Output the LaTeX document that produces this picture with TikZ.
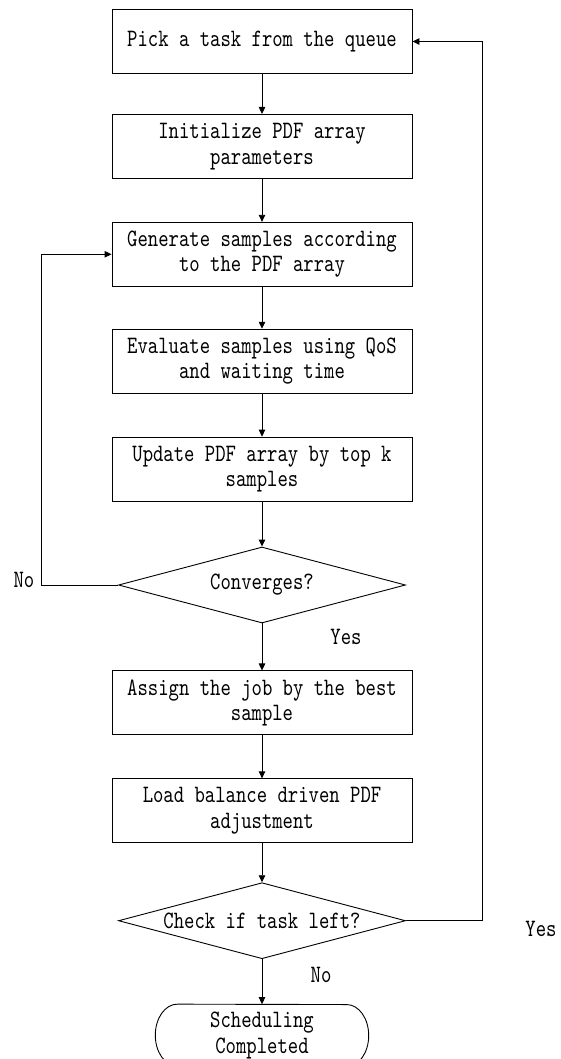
\documentclass[tikz,border=0pt]{standalone}
\usepackage{fontspec}
\usepackage{tikz}
\usetikzlibrary{arrows.meta,positioning,shapes.geometric}
\newfontfamily\flowfont{lmmono10-regular.otf}[FakeStretch=0.79]
\tikzset{
  >={Triangle[length=7pt,width=6.5pt]},
  tasknode/.style={draw,line width=0.9pt,align=center,
                   font=\flowfont\fontsize{25}{25.5}\selectfont,
                   minimum width=300pt,minimum height=64pt,inner sep=2pt},
  testnode/.style={draw,diamond,aspect=3.8,line width=0.9pt,
                   font=\flowfont\fontsize{25}{25.5}\selectfont,
                   minimum width=287pt,minimum height=76pt,inner sep=0pt},
  endnode/.style={align=center,font=\flowfont\fontsize{25}{25.5}\selectfont,
                  minimum width=213pt,minimum height=62pt,inner sep=0pt},
  flowarrow/.style={->,line width=0.9pt},
  answer/.style={font=\flowfont\fontsize{25}{25.5}\selectfont,inner sep=0pt},
}
\begin{document}
\begin{tikzpicture}[x=1pt,y=1pt]
  \useasboundingbox (0,0) rectangle (561,-1059);
  \node[tasknode] (pick) at (262,-41.5) {Pick a task from the queue};
  \node[tasknode,below=40pt of pick] (init) {Initialize PDF array\\parameters};
  \node[tasknode,below=43pt of init] (gen) {Generate samples according\\to the PDF array};
  \node[tasknode,below=42pt of gen] (eval) {Evaluate samples using QoS\\and waiting time};
  \node[tasknode,below=43pt of eval] (upd) {Update PDF array by top k\\samples};
  \node[testnode,below=45pt of upd] (conv) {Converges?};
  \node[tasknode,below=47pt of conv] (assign) {Assign the job by the best\\sample};
  \node[tasknode,below=43pt of assign] (load) {Load balance driven PDF\\adjustment};
  \node[testnode,below=39pt of load] (left) {Check if task left?};
  \node[endnode,below=45pt of left] (done) {Scheduling\\Completed};
  % terminal outline with flat elliptic ends
  \draw[line width=0.9pt] ([xshift=22pt]done.north west)
    arc[start angle=90,end angle=270,x radius=22pt,y radius=31pt]
    -- ([xshift=-22pt]done.south east)
    arc[start angle=-90,end angle=90,x radius=22pt,y radius=31pt] -- cycle;
  \foreach \a/\b in {pick/init,init/gen,gen/eval,eval/upd,upd/conv,conv/assign,assign/load,load/left,left/done}{
    \draw[flowarrow] (\a.south) -- (\b.north);
  }
  \draw[flowarrow] (conv.west) -- ++(-76.5,0) |- (gen.west);
  \draw[flowarrow] (left.east) -- ++(76.5,0) |- (pick.east);
  \node[answer] (no1) at (24,-580) {No};
  \node[answer] (yes1) at (346,-637) {Yes};
  \node[answer] (no2) at (321,-975) {No};
  \node[answer] (yes2) at (541,-929) {Yes};
\end{tikzpicture}
\end{document}
